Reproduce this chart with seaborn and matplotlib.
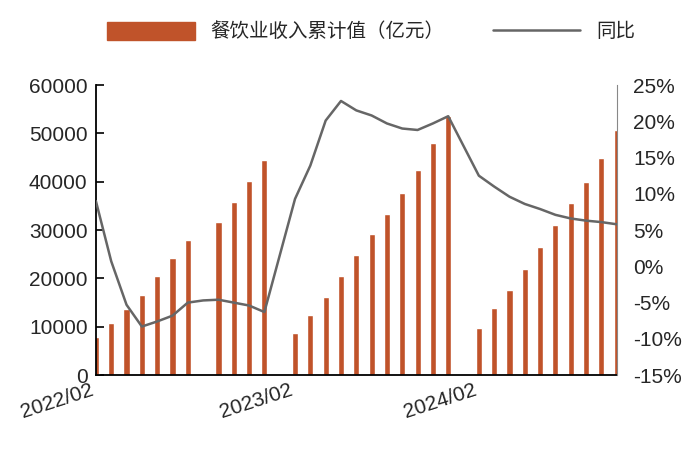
import numpy as np
import pandas as pd
import matplotlib
matplotlib.use('Agg')
import matplotlib.pyplot as plt
import seaborn as sns
from matplotlib.patches import Patch
from matplotlib.lines import Line2D

sns.set_style('white')
plt.rcParams['font.family'] = ['Liberation Sans', 'Noto Sans CJK SC', 'DejaVu Sans']

# monthly slots: 12 for 2022, 12 for 2023 (Jan empty), 11 for 2024 (Jan empty)
months = ([f'2022/{m:02d}' for m in range(1, 13)] + [f'2023/{m:02d}' for m in range(1, 13)]
          + [f'2024/{m:02d}' for m in range(1, 12)])
tick_labels = ['2022/02', '2023/02', '2024/02']

rev_2022 = [7900, 10800, 13700, 16600, 20400, 24200, 27900, np.nan, 31700, 35800, 40200, 44400]
rev_2023 = [np.nan, 8750, 12500, 16200, 20400, 24800, 29200, 33300, 37700, 42500, 48100, 53500]
rev_2024 = [np.nan, 9800, 13900, 17700, 22000, 26600, 31100, 35600, 40000, 45000, 50600]
yoy_2022 = [9.0, 0.7, -5.3, -8.3, -7.6, -6.8, -5.0, -4.7, -4.6, -5.0, -5.4, -6.3]
yoy_2023 = [np.nan, 9.3, 13.9, 20.1, 22.8, 21.5, 20.8, 19.7, 19.0, 18.8, 19.7, 20.7]
yoy_2024 = [np.nan, 12.5, 11.0, 9.6, 8.6, 7.9, 7.1, 6.6, 6.3, 6.1, 5.8]

df = pd.DataFrame({'month': months, 'revenue': rev_2022 + rev_2023 + rev_2024,
                   'yoy': yoy_2022 + yoy_2023 + yoy_2024})
df['pos'] = np.arange(len(df))

bar_color = '#C0532A'
line_color = '#666666'

fig = plt.figure(figsize=(7, 4.62), dpi=100)
ax = fig.add_axes([0.137, 0.188, 0.744, 0.628])
sns.barplot(data=df, x='month', y='revenue', color=bar_color, width=0.4,
            saturation=1, ax=ax)
ax.set_xlim(0, len(df) - 1)
ax.set_ylim(0, 60000)
ax.set_yticks(range(0, 60001, 10000))
ax.set_xlabel('')
ax.set_ylabel('')
lab_pos = [0, 13, 25]
ax.set_xticks(lab_pos)
ax.set_xticklabels(tick_labels, rotation=18, ha='right', fontsize=15)
ax.tick_params(axis='x', length=0, pad=4)
jan_pos = [12, 24]
ax.set_xticks(jan_pos, minor=True)
ax.tick_params(axis='x', which='minor', direction='in', length=6, width=1.2, color='black')
ax.tick_params(axis='y', direction='in', length=6, width=1.2, labelsize=15, color='black', pad=6)
for s in ['top', 'right']:
    ax.spines[s].set_visible(False)
for s in ['left', 'bottom']:
    ax.spines[s].set_color('black')
    ax.spines[s].set_linewidth(1.3)

ax2 = ax.twinx()
d = df.dropna(subset=['yoy'])
sns.lineplot(x=d['pos'], y=d['yoy'], color=line_color, linewidth=1.8, ax=ax2)
ax2.set_ylim(-15, 25)
ax2.set_yticks(range(-15, 26, 5))
ax2.set_yticklabels([f'{v}%' for v in range(-15, 26, 5)])
ax2.set_ylabel('')
ax2.tick_params(axis='y', length=0, labelsize=15, pad=12)
for s in ['top', 'left', 'bottom']:
    ax2.spines[s].set_visible(False)
ax2.spines['right'].set_color('#888888')
ax2.spines['right'].set_zorder(0)
ax2.set_xlim(0, len(df) - 1)

handles = [Patch(color=bar_color), Line2D([], [], color=line_color, linewidth=1.8)]
fig.legend(handles, ['餐饮业收入累计值（亿元）', '同比'], loc='upper center',
           bbox_to_anchor=(0.53, 0.99), ncol=2, frameon=False, fontsize=14,
           handlelength=4.5, handleheight=1.0, columnspacing=2.5)

fig.savefig('out.png', dpi=100)
